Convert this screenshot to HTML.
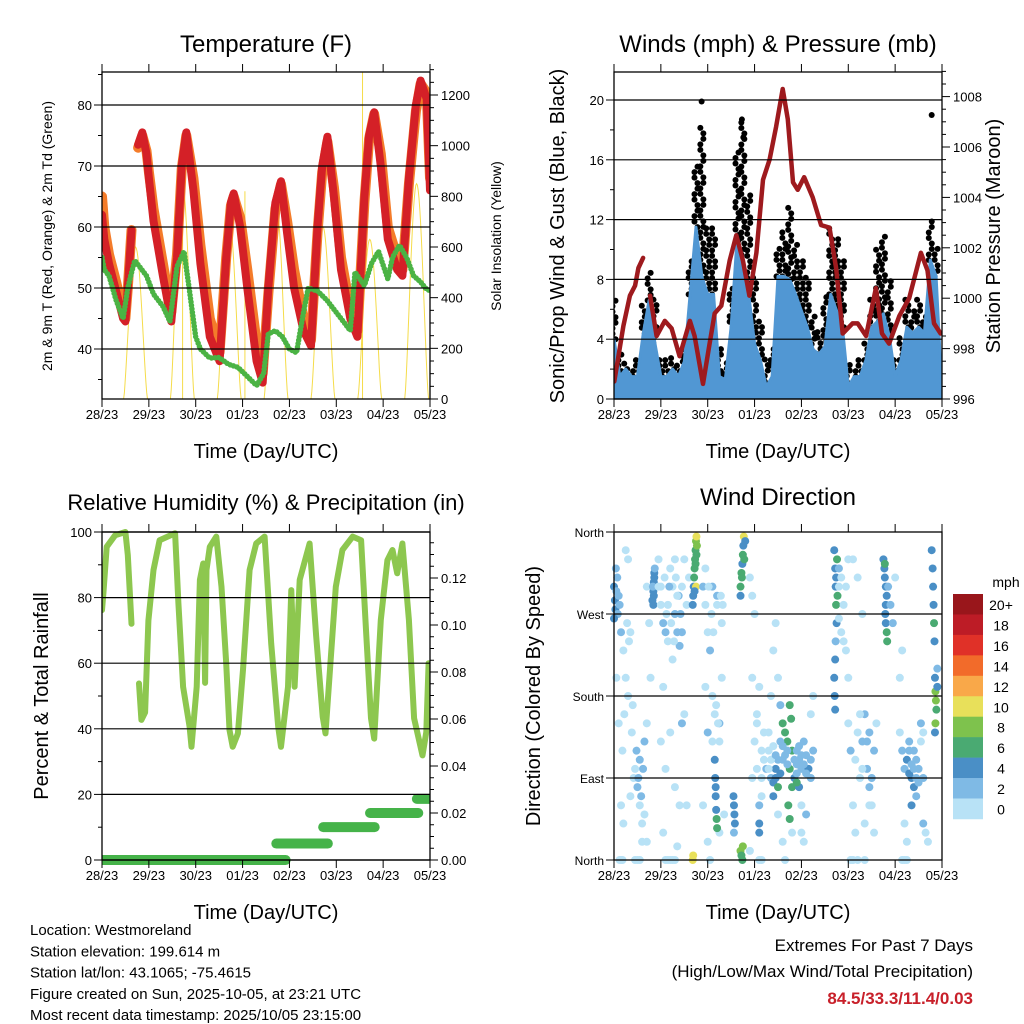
<!DOCTYPE html>
<html><head><meta charset="utf-8"><style>
html,body{margin:0;padding:0;background:#fff;}
svg{display:block;font-family:"Liberation Sans",Arial,sans-serif;}
</style></head><body>
<svg id="chart" width="1024" height="1024" viewBox="0 0 1024 1024" xmlns="http://www.w3.org/2000/svg">
<rect x="0" y="0" width="1024" height="1024" fill="#fff"/>
</svg>
<script>
// ===== shared axis data =====
const dayLabels = ["28/23","29/23","30/23","01/23","02/23","03/23","04/23","05/23"];

// ===== Temperature panel data =====
const tempDays = [0,0.05,0.15,0.3,0.45,0.5,0.55,0.63,0.7,0.77,0.86,0.95,1.0,1.1,1.3,1.48,1.6,1.7,1.8,1.95,2.1,2.3,2.51,2.65,2.75,2.81,2.95,3.1,3.3,3.43,3.55,3.7,3.82,3.95,4.1,4.3,4.46,4.6,4.7,4.81,4.95,5.1,5.3,5.45,5.6,5.7,5.81,5.95,6.1,6.3,6.41,6.55,6.7,6.8,6.93,7.0];
const temp2m = [62,58,54,49.5,45,44.5,50,59.5,null,73.5,75.5,72,68,61,52,44.5,55,70,75.5,66,54,42,38,55,64,65.5,60,50,38,34.5,50,64,67.5,59,50,43,40.5,60,70,74.8,65,53,45,42,65,75,78.8,70,58,53,52,68,80,84,81,66];
const temp9m = [65,60,55.5,51,46,45,50,59.5,null,73,75,72.5,69,63,54,46,55.5,69.5,75,68,57,45,39.5,55,63.5,65,61.5,53,41,36,49,63,67,61,53,45,41.5,59,69,74,66.5,55,46.5,43,64,74.5,78.5,72,60,55,53,67,79,83.5,82,68];
const dewDays = [0,0.05,0.15,0.3,0.45,0.55,0.63,0.7,0.8,0.95,1.1,1.3,1.45,1.6,1.75,1.85,2.0,2.1,2.3,2.5,2.7,2.9,3.1,3.3,3.45,3.55,3.7,3.85,4.0,4.15,4.3,4.4,4.6,4.8,5.0,5.2,5.3,5.4,5.6,5.75,5.9,6.1,6.2,6.35,6.5,6.65,6.8,6.9,7.0];
const dewVals = [55,53,52,48,45,50,52.5,54.5,53.5,52,49,47,44.5,53.5,56,50.5,42,40,38.5,38.6,37.5,37,35.5,34,36,42.5,43,42,40,39.4,46,50,49.5,48,46,44,43,52.6,50.4,54,56,51.5,55,57,55,52,51,50,49.5];
const solarPeaks = [600,850,705,770,680,630,850];
const solarSpikeDays = [5.56,1.72,3.05];
const solarSpikeVals = [1300,900,820];

// ===== Wind panel data =====
const gustVals = [6.8,3,2.6,2.2,2.6,6.6,8.8,7,2.6,2.6,3,2.4,3.5,9.3,15.9,18.2,11.5,11.5,3.7,2.6,7.5,16.6,18.7,13.7,8.2,5.5,3,3.5,10.4,11.5,13,10.4,9.3,8.2,5.7,4.8,7,11.5,10.9,9.3,2.6,2.2,2.6,3.9,7,10.2,10.9,8.2,2.6,4.2,7,5.9,7,5.7,11.9,10.4,0.4];
const windVals = [4,1.5,2,1.5,1.5,4.4,6.6,3.7,1.5,1.5,2,1.5,2.5,7,11.5,8.2,7,7,1.5,1.3,4.8,10.6,9.3,7,3.7,2.6,0.8,1.5,8.2,8.2,8,7,5.9,4.8,3.3,3,3.5,7,5.9,4.8,0.8,1.5,1.5,2.6,4.8,5.2,5.7,4.2,1.5,2.6,4.8,4.4,4.8,4.4,9.3,8.2,0.3];
const windStepDays = 0.125;
const gustOutlierDays = [1.87,6.78,2.73,2.76];
const gustOutlierVals = [19.9,19.0,18.7,17.5];
const presDays = [0.007,0.2,0.34,0.45,0.52,0.62,0.7,0.77,0.91,1.085,1.23,1.4,1.62,1.72,1.9,2.04,2.15,2.29,2.47,2.61,2.75,2.89,3.04,3.18,3.32,3.46,3.6,3.71,3.82,3.92,4.06,4.24,4.42,4.6,4.74,4.88,5.09,5.2,5.38,5.59,5.72,5.87,6.09,6.3,6.55,6.69,6.83,6.97];
const presVals = [996.7,998.9,1000.1,1000.5,1001.2,1001.6,null,1000.1,998.5,999.1,998.8,997.7,999.1,998.5,996.6,998.2,999.4,999.7,1001.5,1002.5,1001.5,1000.1,1001.8,1004.7,1005.5,1006.8,1008.3,1007.1,1004.6,1004.3,1004.8,1004.0,1002.9,1002.8,1001.2,998.6,999.0,999.0,998.5,1000.4,998.6,998.2,999.3,1000.0,1001.8,1001.1,999.0,998.6];

// ===== RH / precip panel data =====
const rhDays = [0,0.03,0.1,0.28,0.5,0.55,0.63,0.7,0.79,0.84,0.92,0.99,1.1,1.23,1.56,1.63,1.73,1.87,1.91,2.02,2.09,2.16,2.2,2.23,2.3,2.44,2.55,2.65,2.72,2.79,2.9,3.01,3.15,3.29,3.47,3.61,3.76,3.82,3.97,4.04,4.11,4.22,4.43,4.57,4.71,4.77,4.99,5.13,5.35,5.53,5.64,5.74,5.81,5.95,6.09,6.2,6.3,6.41,6.55,6.66,6.84,6.92,6.97];
const rhVals = [76.2,81.3,95.5,99,100,93,72,null,53.8,42.7,45,73,88.4,97.5,99.6,78.3,52.8,40.6,34.5,52.8,85.4,90.4,54,88.4,95.5,98.6,83.3,60,39.6,34.5,38.6,58,88.4,96.5,98.6,66,40.6,34.5,52.8,82.3,52.8,85.4,96.5,68.5,43.7,38.6,83.3,94.5,98.6,97.5,68.5,43.2,37,73.2,91.4,94.5,87.4,96.5,73.2,43.2,31.9,39,60];
const precipStart = [0,3.72,4.72,5.72,6.72];
const precipEnd = [3.92,4.82,5.82,6.75,7.0];
const precipVals = [0,0.007,0.014,0.020,0.026];

// ===== Wind direction panel data: [day, degrees, mph] =====
const dirDays = [];
const dirDegs = [];
const dirSpeeds = [];
const dirPoints = [
[0.0,300,4],[0.02,285,4],[0.03,275,4],[0.05,295,3],[0.07,310,2],[0.1,290,2],[0.12,280,3],[0.08,270,2],[0.0,265,4],[0.04,320,2],
[0.15,250,2],[0.2,230,1],[0.25,200,1],[0.18,120,1],[0.3,330,1],[0.35,250,1],[0.4,170,1],[0.45,100,1],[0.5,80,2],[0.55,60,1],[0.6,40,1],[0.65,130,2],[0.62,100,3],[0.55,110,2],[0.7,20,1],[0.45,0,1],[0.5,0,1],[0.55,0,1],[0.3,180,0],[0.25,340,1],[0.1,150,1],[0.35,70,1],[0.05,200,0],[0.15,60,1],
[0.12,0,1],[0.15,0,1],[0.18,0,1],[0.2,40,1],[0.22,160,1],[0.28,260,1],[0.32,240,1],[0.38,140,1],[0.42,90,1],[0.48,120,2],[0.52,90,2],[0.58,70,3],[0.6,20,1],[0.65,50,1],[0.7,150,1],[0.75,260,1],[0.7,300,1],[0.78,200,1],
[0.82,285,4],[0.84,295,4],[0.85,305,4],[0.86,315,4],[0.87,320,3],[0.83,300,3],[0.85,290,4],[0.86,310,4],[0.84,280,5],
[0.95,330,1],[1.0,300,1],[1.05,260,2],[1.1,250,2],[1.15,240,1],[1.2,320,1],[1.25,300,1],[1.3,270,2],[1.35,250,2],[1.4,235,3],[1.45,250,2],[1.15,280,1],[1.25,220,1],[1.05,190,1],[1.2,140,1],[1.1,100,1],[1.3,80,1],[1.45,150,2],[1.05,30,1],[1.2,0,0],[1.25,0,0],[1.4,60,1],[1.0,130,1],[1.3,330,1],[1.38,290,3],[1.42,270,3],
[0.95,300,1],[1.0,280,1],[1.08,310,1],[1.12,270,1],[1.18,300,2],[1.22,260,1],[1.28,240,1],[1.32,310,1],[1.35,290,1],[1.45,300,1],[1.5,330,1],[1.55,280,1],[1.6,310,1],[1.1,0,0],[1.15,0,0],[1.3,0,0],[1.35,15,1],[1.5,160,1],[1.55,60,1],
[1.68,280,4],[1.69,290,4],[1.7,300,5],[1.71,310,6],[1.72,320,6],[1.73,330,7],[1.74,340,6],[1.75,350,9],[1.76,355,10],[1.77,345,8],[1.75,300,10],[1.74,325,6],[1.72,295,5],[1.76,335,7],[1.68,0,11],[1.69,5,10],
[1.9,300,2],[1.95,280,1],[2.0,250,1],[2.05,230,2],[2.1,180,1],[2.15,160,1],[2.2,280,1],[2.25,150,2],[2.3,260,1],[1.95,190,1],[2.0,140,2],[1.9,60,1],[2.1,130,1],[2.3,200,1],[2.1,300,3],[2.2,290,2],
[1.95,320,1],[2.02,300,1],[2.08,270,1],[2.12,250,1],[2.18,170,1],[2.22,150,1],[2.25,130,1],[2.28,290,1],[2.32,280,1],[2.0,20,1],[2.05,0,0],[2.25,30,1],[2.35,50,1],
[2.15,110,4],[2.16,90,4],[2.17,70,4],[2.18,55,5],[2.19,45,6],[2.2,35,6],[2.17,80,5],
[2.55,70,4],[2.56,60,4],[2.57,50,4],[2.58,40,4],[2.56,30,3],
[2.7,10,8],[2.72,5,7],[2.74,0,6],[2.75,15,8],
[2.7,300,6],[2.72,315,6],[2.74,325,5],[2.75,335,6],[2.76,345,5],[2.77,355,10],[2.73,310,6],[2.78,330,6],[2.7,290,4],[2.8,350,4],
[2.9,310,1],[2.95,290,1],[3.0,270,1],[2.95,200,1],[3.05,150,1],[3.1,40,4],[3.1,30,4],[3.1,60,3],[3.05,100,1],[2.95,90,1],[3.15,70,1],
[3.0,130,1],[3.05,160,1],[3.1,190,1],[3.15,120,1],[3.2,140,1],[3.2,110,1],[3.15,90,1],[3.1,0,0],[3.15,0,0],[2.9,10,1],
[3.25,100,2],[3.3,120,1],[3.35,90,3],[3.4,85,4],[3.45,90,5],[3.5,80,6],[3.55,95,5],[3.45,100,4],[3.5,110,3],[3.6,150,6],[3.65,140,7],[3.7,130,6],[3.75,170,6],[3.78,155,7],[3.8,120,6],[3.75,100,6],[3.8,80,6],[3.85,90,4],[3.9,120,3],[3.95,110,2],[4.0,100,2],[4.05,130,2],[4.1,115,2],[4.15,100,4],[4.2,90,3],[4.25,120,2],[3.95,80,5],[3.9,85,6],[3.4,70,5],[3.72,60,6],[3.75,45,7],[3.3,140,1],[3.35,180,1],[3.4,230,1],[3.45,260,1],[3.5,50,1],[3.6,20,1],[3.65,0,0],[3.8,30,1],[4.0,60,1],[4.1,50,3],[3.5,200,1],[3.55,170,2],[3.6,110,2],[3.7,105,2],[3.9,105,2],
[3.3,100,1],[3.35,110,1],[3.4,125,1],[3.45,115,2],[3.55,130,2],[3.6,125,2],[3.65,115,2],[3.7,120,2],[3.85,110,2],[3.9,95,2],[3.95,125,2],[4.0,115,2],[4.05,105,2],[4.1,95,2],[4.2,110,2],[4.0,30,1],[4.05,20,1],[4.2,160,1],[4.25,180,1],
[4.7,340,4],[4.72,320,4],[4.73,300,4],[4.74,280,6],[4.75,260,4],[4.73,240,3],[4.72,220,4],[4.7,200,4],[4.71,180,4],[4.72,165,4],[4.76,330,6],[4.74,310,4],[4.77,290,6],[4.8,265,1],[4.85,250,1],[4.9,240,1],[4.95,230,1],
[4.8,300,1],[4.85,310,1],[4.9,280,1],[4.95,300,1],[5.0,330,1],[4.8,320,3],
[5.0,150,1],[5.05,120,2],[5.1,60,1],[5.15,30,1],[5.2,0,0],[5.25,90,1],[5.3,130,2],[5.35,160,2],[5.4,100,2],[5.45,80,2],[5.5,60,1],[5.0,200,1],[5.1,330,1],[5.2,310,1],[5.3,270,1],[5.55,120,2],[5.45,140,3],[5.35,40,1],
[5.05,0,0],[5.1,0,0],[5.15,110,1],[5.2,140,1],[5.25,160,1],[5.3,100,1],[5.4,130,2],[5.45,60,1],[5.5,90,2],[5.55,30,1],[5.6,150,1],[5.35,0,0],
[5.75,330,4],[5.77,320,4],[5.78,310,4],[5.8,300,4],[5.82,290,4],[5.8,280,4],[5.79,270,5],[5.8,260,4],[5.82,250,6],[5.83,240,6],[5.78,325,6],[5.85,300,3],[5.9,280,2],[5.95,260,2],[6.0,310,1],
[6.1,140,1],[6.15,120,2],[6.2,100,3],[6.25,110,4],[6.3,95,4],[6.35,90,4],[6.4,80,4],[6.45,70,3],[6.5,85,3],[6.4,100,2],[6.3,130,2],[6.35,60,4],[6.45,110,2],[6.2,40,1],[6.25,20,1],[6.1,200,1],[6.15,230,1],[6.55,150,2],[6.6,40,2],
[6.15,0,0],[6.2,0,0],[6.25,0,0],[6.3,120,2],[6.35,105,2],[6.4,120,2],[6.45,90,2],[6.5,100,2],[6.55,130,1],[6.6,90,2],[6.65,30,1],[6.7,20,1],[6.6,140,1],
[6.78,340,4],[6.8,320,4],[6.81,300,4],[6.82,280,4],[6.83,260,6],[6.84,240,4],[6.85,200,4],[6.86,185,8],[6.87,175,8],[6.88,165,6],[6.9,190,4],[6.86,150,8],[6.85,140,4],[6.9,210,3]
];
dirPoints.forEach(p=>{dirDays.push(p[0]);dirDegs.push(p[1]);dirSpeeds.push(p[2]);});
const speedColors = ["#b8e2f6","#7fbae5","#4a8fc6","#4aaa72","#7ec24d","#e8e05a","#f9a849","#f26b2a","#e03128","#bd1c26","#99161b"];
const speedLabels = ["0","2","4","6","8","10","12","14","16","18","20+"];

// ===== helpers =====
const NS = "http://www.w3.org/2000/svg";
const svg = document.getElementById("chart");
function mk(tag, attrs, parent){
  const e = document.createElementNS(NS, tag);
  for (const k in attrs) e.setAttribute(k, attrs[k]);
  (parent || svg).appendChild(e);
  return e;
}
function txt(x, y, s, size, anchor, parent){
  const t = mk("text", {x:x, y:y, "font-size":size, "text-anchor":anchor||"middle", fill:"#000"}, parent);
  t.textContent = s;
  return t;
}
function group(name){
  const g = mk("g", {});
  
  
  return g;
}
function pathFrom(xs, ys){
  let d = "", pen = false;
  for (let i = 0; i < Math.min(xs.length, ys.length); i++){
    if (ys[i] === null || ys[i] === undefined){ pen = false; continue; }
    d += (pen ? "L" : "M") + xs[i].toFixed(1) + " " + ys[i].toFixed(1) + " ";
    pen = true;
  }
  return d;
}
function makeX(L, R){ return d => L + d * (R - L) / 7; }

function xAxis(g, L, R, T, B, xs){
  for (let i = 0; i < dayLabels.length; i++){
    const x = xs(i);
    const tb = mk("line", {x1:x, y1:B, x2:x, y2:B+8, stroke:"#000", "stroke-width":1}, g);
    
    
    const tt = mk("line", {x1:x, y1:T, x2:x, y2:T-8, stroke:"#000", "stroke-width":1}, g);
    
    
    const lb = txt(x, B+20, dayLabels[i], 13, "middle", g);
    
    
  }
  const ttl = txt((L+R)/2, B+59, "Time (Day/UTC)", 20, "middle", g);
  
  
}
function yTicks(g, side, edge, ys, min, max, major, minor, fmt, grid, L, R){
  for (let v = min; v <= max + 1e-9; v += minor){
    const isMajor = Math.abs(v/major - Math.round(v/major)) < 1e-6;
    const y = ys(v);
    const len = isMajor ? 8 : 4;
    const x2 = side === "left" ? edge - len : edge + len;
    const tk = mk("line", {x1:edge, y1:y, x2:x2, y2:y, stroke:"#000", "stroke-width":1}, g);
    
    
    if (isMajor){
      const lb = txt(side === "left" ? edge - 10 : edge + 11, y + 5, fmt(v), 13, side === "left" ? "end" : "start", g);
      
      
      if (grid){
        const gl = mk("line", {x1:L, y1:y, x2:R, y2:y, stroke:"#000", "stroke-width":1.2}, g);
        
        
      }
    }
  }
}
function box(g, L, R, T, B){
  const r = mk("rect", {x:L, y:T, width:R-L, height:B-T, fill:"none", stroke:"#000", "stroke-width":1.3}, g);
  
  
}
function clip(id, L, R, T, B){
  const c = mk("clipPath", {id:id});
  mk("rect", {x:L, y:T, width:R-L, height:B-T}, c);
}
function title(x, y, s, size, name){
  const t = txt(x, y, s, size, "middle");
  
  
}
function vTitle(x, y, s, size, name, g){
  const t = txt(x, y, s, size, "middle", g);
  t.setAttribute("transform", "rotate(-90 " + x + " " + y + ")");
  
  
}

// ===== Panel 1: Temperature =====
(function(){
  const L=102,R=430,T=72,B=399;
  const xs = makeX(L,R);
  const yT = v => 105 - (v - 80) * 6.1;
  const yS = v => 399 - v * 0.25333;
  clip("c1", L, R, T, B);
  const g = group("temperature-panel");
  const data = mk("g", {"clip-path":"url(#c1)"}, g);
  const sg = mk("g", {}, data);
  
  
  solarPeaks.forEach((pk, d) => {
    const xsA = [], ysA = [];
    for (let k = 0; k <= 30; k++){
      const f = k/30;
      const day = d + 0.46 + f * 0.51;
      xsA.push(xs(day)); ysA.push(yS(pk * Math.pow(Math.sin(Math.PI*f), 1.4)));
    }
    const p = mk("path", {d:pathFrom(xsA, ysA), fill:"none", stroke:"#f5dc4a", "stroke-width":1}, sg);
    
    
  });
  solarSpikeDays.forEach((d, i) => {
    const p = mk("line", {x1:xs(d), y1:yS(0), x2:xs(d), y2:yS(solarSpikeVals[i]), stroke:"#f5dc4a", "stroke-width":1}, sg);
    
    
  });
  const o = mk("path", {d:pathFrom(tempDays.map(xs), temp9m.map(v=>v===null?null:yT(v))), fill:"none", stroke:"#f47c2a", "stroke-width":10, "stroke-linejoin":"round", "stroke-linecap":"round"}, data);
  
  
  const r = mk("path", {d:pathFrom(tempDays.map(xs), temp2m.map(v=>v===null?null:yT(v))), fill:"none", stroke:"#d42027", "stroke-width":8, "stroke-linejoin":"round", "stroke-linecap":"round"}, data);
  
  
  const gr = mk("path", {d:pathFrom(dewDays.map(xs), dewVals.map(yT)), fill:"none", stroke:"#4bb344", "stroke-width":5.5, "stroke-dasharray":"0 3.5", "stroke-linecap":"round"}, data);
  
  
  yTicks(g, "left", L, yT, 35, 85, 10, 5, v=>String(v), true, L, R);
  yTicks(g, "right", R, yS, 0, 1300, 200, 50, v=>String(v), false);
  xAxis(g, L, R, T, B, xs);
  box(g, L, R, T, B);
  vTitle(52, 236, "2m & 9m T (Red, Orange) & 2m Td (Green)", 14, "temperature-y-axis-title", g);
  vTitle(501, 236, "Solar Insolation (Yellow)", 14, "solar-y-axis-title", g);
  title(266, 52, "Temperature (F)", 24, "temperature-title");
})();

// ===== Panel 2: Winds & Pressure =====
(function(){
  const L=614,R=942,T=72,B=399;
  const xs = makeX(L,R);
  const yW = v => 399 - v * 14.95;
  const yP = v => 399 - (v - 996) * 25.2;
  clip("c2", L, R, T, B);
  const g = group("winds-panel");
  const data = mk("g", {"clip-path":"url(#c2)"}, g);
  const bg = mk("g", {fill:"#000"}, data);
  
  
  gustVals.forEach((gv, i) => {
    const x = xs(i * windStepDays);
    const lo = yW(windVals[i]), hi = yW(gv);
    for (let y = lo; y >= hi - 0.1; y -= 5.5){
      const c = mk("circle", {cx:x + ((Math.round(y) % 2) ? 1.5 : -1.5), cy:y, r:3}, bg);
      
      
    }
  });
  gustOutlierDays.forEach((d, i) => {
    const c = mk("circle", {cx:xs(d), cy:yW(gustOutlierVals[i]), r:3}, bg);
    
    
  });
  let d = "M" + xs(0) + " " + yW(0);
  windVals.forEach((v, i) => { d += " L" + xs(i*windStepDays).toFixed(1) + " " + yW(v).toFixed(1); });
  d += " L" + xs((windVals.length-1)*windStepDays) + " " + yW(0) + " Z";
  const wb = mk("path", {d:d, fill:"#5197d3", stroke:"#5197d3", "stroke-width":3, "stroke-linejoin":"round"}, data);
  
  
  const p = mk("path", {d:pathFrom(presDays.map(xs), presVals.map(v=>v===null?null:yP(v))), fill:"none", stroke:"#9e1a1e", "stroke-width":4.5, "stroke-linejoin":"round", "stroke-linecap":"round"}, data);
  
  
  yTicks(g, "left", L, yW, 0, 21, 4, 2, v=>String(v), true, L, R);
  yTicks(g, "right", R, yP, 996, 1009, 2, 0.5, v=>String(v), false);
  xAxis(g, L, R, T, B, xs);
  box(g, L, R, T, B);
  vTitle(564, 236, "Sonic/Prop Wind & Gust (Blue, Black)", 20, "wind-y-axis-title", g);
  vTitle(1000, 236, "Station Pressure (Maroon)", 20, "pressure-y-axis-title", g);
  title(778, 52, "Winds (mph) & Pressure (mb)", 24, "winds-title");
})();

// ===== Panel 3: RH & Precip =====
(function(){
  const L=102,R=430,T=532,B=860;
  const xs = makeX(L,R);
  const yH = v => 860 - v * 3.28;
  const yR = v => 860 - v * 2350;
  clip("c3", L, R, T-6, B+8);
  const g = group("humidity-panel");
  const data = mk("g", {"clip-path":"url(#c3)"}, g);
  const rh = mk("path", {d:pathFrom(rhDays.map(xs), rhVals.map(v=>v===null?null:yH(v))), fill:"none", stroke:"#8dc74f", "stroke-width":6, "stroke-linejoin":"round", "stroke-linecap":"round"}, data);
  
  
  precipVals.forEach((v, i) => {
    const s = mk("line", {x1:xs(precipStart[i]), y1:yR(v), x2:xs(precipEnd[i]), y2:yR(v), stroke:"#45b349", "stroke-width":10, "stroke-linecap":"round"}, data);
    
    
  });
  yTicks(g, "left", L, yH, 0, 100, 20, 10, v=>String(v), true, L, R);
  yTicks(g, "right", R, yR, 0, 0.135, 0.02, 0.005, v=>v.toFixed(2), false);
  xAxis(g, L, R, T, B, xs);
  box(g, L, R, T, B);
  vTitle(48, 696, "Percent & Total Rainfall", 20, "humidity-y-axis-title", g);
  title(266, 510, "Relative Humidity (%) & Precipitation (in)", 22, "humidity-title");
})();

// ===== Panel 4: Wind Direction =====
(function(){
  const L=614,R=942,T=532,B=860;
  const xs = makeX(L,R);
  const yD = v => 860 - v * 328 / 360;
  clip("c4", L-5, R+5, T-5, B+5);
  const g = group("wind-direction-panel");
  const data = mk("g", {"clip-path":"url(#c4)"}, g);
  dirDays.forEach((d, i) => {
    const bin = Math.min(10, Math.floor(dirSpeeds[i] / 2));
    const c = mk("circle", {cx:xs(d), cy:yD(dirDegs[i]), r:4, fill:speedColors[bin]}, data);
    
    
  });
  const dirNames = ["North","East","South","West","North"];
  dirNames.forEach((n, i) => {
    const y = yD(i*90);
    const tk = mk("line", {x1:L, y1:y, x2:L-8, y2:y, stroke:"#000"}, g);
    
    
    if (i > 0 && i < 4){
      const gl = mk("line", {x1:L, y1:y, x2:R, y2:y, stroke:"#000", "stroke-width":1.2}, g);
      
      
    }
    const lb = txt(L-10, y+5, n, 12, "end", g);
    
    
  });
  xAxis(g, L, R, T, B, xs);
  box(g, L, R, T, B);
  vTitle(540, 696, "Direction (Colored By Speed)", 20, "direction-y-axis-title", g);
  title(778, 505, "Wind Direction", 24, "wind-direction-title");
  const cb = group("speed-colorbar");
  const top = 594, h = 20.45;
  for (let i = 0; i < speedColors.length; i++){
    const k = speedColors.length - 1 - i;
    const rct = mk("rect", {x:953, y:top + i*h, width:30, height:h+0.3, fill:speedColors[k]}, cb);
    
    
    const lb = txt(1001, top + i*h + 16, speedLabels[k], 14, "middle", cb);
    
    
  }
  const u = txt(1006, 587, "mph", 14, "middle", cb);
  
  
})();

// ===== footer text =====
(function(){
  const info = ["Location: Westmoreland","Station elevation: 199.614 m","Station lat/lon: 43.1065; -75.4615","Figure created on Sun, 2025-10-05, at 23:21 UTC","Most recent data timestamp: 2025/10/05 23:15:00"];
  const g = group("station-info");
  info.forEach((s, i) => {
    const t = txt(30, 935 + i*21.3, s, 15, "start", g);
    
    
  });
  const e = group("extremes-summary");
  const a = txt(973, 951, "Extremes For Past 7 Days", 17, "end", e);
  
  
  const b = txt(973, 977, "(High/Low/Max Wind/Total Precipitation)", 17, "end", e);
  
  
  const c = txt(973, 1004, "84.5/33.3/11.4/0.03", 17, "end", e);
  c.setAttribute("fill", "#c8202a");
  c.setAttribute("font-weight", "bold");
  
  
})();
</script>
</body></html>
